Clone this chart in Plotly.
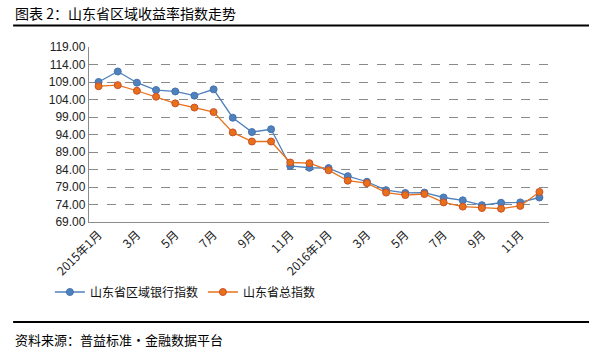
import plotly.graph_objects as go

months = [f"2015年{m}月" for m in range(1, 13)] + [f"2016年{m}月" for m in range(1, 13)]
bank_index = [109.0, 112.0, 108.8, 106.7, 106.3, 105.1, 106.9, 98.8, 94.7, 95.5, 85.0, 84.5,
              84.4, 82.1, 80.5, 78.1, 77.3, 77.4, 76.0, 75.2, 73.8, 74.5, 74.6, 76.0]
total_index = [107.8, 108.1, 106.5, 104.8, 102.9, 101.7, 100.4, 94.6, 92.0, 92.0, 86.0, 85.8,
               83.8, 80.8, 80.1, 77.4, 76.7, 77.0, 74.6, 73.4, 73.0, 72.8, 73.6, 77.6]
tick_vals = months[::2]
tick_text = ["2015年1月", "3月", "5月", "7月", "9月", "11月",
             "2016年1月", "3月", "5月", "7月", "9月", "11月"]
y_ticks = [69, 74, 79, 84, 89, 94, 99, 104, 109, 114, 119]
grid_vals = [74, 79, 84, 89, 94, 99, 104, 109, 114]

FONT = "Noto Sans CJK SC"
blue = "#4F81BD"
orange = "#E8701A"

fig = go.Figure()
fig.add_trace(go.Scatter(x=months, y=bank_index, mode="lines+markers", name="山东省区域银行指数",
                         line=dict(color=blue, width=1.3),
                         marker=dict(color=blue, size=7, line=dict(color="#4573AE", width=1))))
fig.add_trace(go.Scatter(x=months, y=total_index, mode="lines+markers", name="山东省总指数",
                         line=dict(color=orange, width=1.3),
                         marker=dict(color=orange, size=7, line=dict(color="#C9502A", width=1))))
# invisible trace to carry grid axis
fig.add_trace(go.Scatter(x=[months[0]], y=[69], yaxis="y2", showlegend=False,
                         mode="markers", marker=dict(opacity=0), hoverinfo="skip"))

fig.update_layout(
    width=600, height=353,
    margin=dict(l=89, r=51, t=47, b=131),
    paper_bgcolor="white", plot_bgcolor="white",
    font=dict(family=FONT, color="#222222"),
    showlegend=True,
    legend=dict(orientation="h", x=-0.085, y=-0.4, xanchor="left", yanchor="middle",
                font=dict(size=12, family=FONT, color="#111111"),
                itemwidth=30, tracegroupgap=0, bgcolor="rgba(0,0,0,0)"),
    xaxis=dict(type="category", categoryorder="array", categoryarray=months,
               tickmode="array", tickvals=tick_vals, ticktext=tick_text,
               tickangle=-45, tickfont=dict(size=12, family=FONT, color="#222222"),
               showgrid=False, showline=True, linecolor="#8c8c8c", linewidth=1.3,
               ticks="", range=[-0.5, 23.5]),
    yaxis=dict(range=[69, 119], tickmode="array", tickvals=y_ticks,
               ticktext=[f"{v:.2f}" for v in y_ticks],
               tickfont=dict(size=12, family="Liberation Sans", color="#222222"),
               showgrid=False, showline=True, linecolor="#8c8c8c", linewidth=1.3,
               ticks="", zeroline=False),
    yaxis2=dict(range=[69, 119], overlaying="y", tickmode="array", tickvals=grid_vals,
                showticklabels=False, showgrid=True, gridcolor="#8a8a8a", griddash="dash",
                gridwidth=1, zeroline=False, showline=False),
)

fig.add_annotation(text="图表 2：山东省区域收益率指数走势", xref="paper", yref="paper",
                   x=-0.165, y=1.194, xanchor="left", yanchor="middle", showarrow=False,
                   font=dict(size=14, family=FONT, color="#000000"))
fig.add_annotation(text="资料来源：普益标准・金融数据平台", xref="paper", yref="paper",
                   x=-0.165, y=-0.669, xanchor="left", yanchor="middle", showarrow=False,
                   font=dict(size=13, family=FONT, color="#000000"))
fig.add_shape(type="line", xref="paper", yref="paper", x0=-0.165, x1=1.087, y0=1.123, y1=1.123,
              line=dict(color="black", width=2))
fig.add_shape(type="line", xref="paper", yref="paper", x0=-0.165, x1=1.087, y0=-0.571, y1=-0.571,
              line=dict(color="black", width=2))

fig.write_html("out.html")
